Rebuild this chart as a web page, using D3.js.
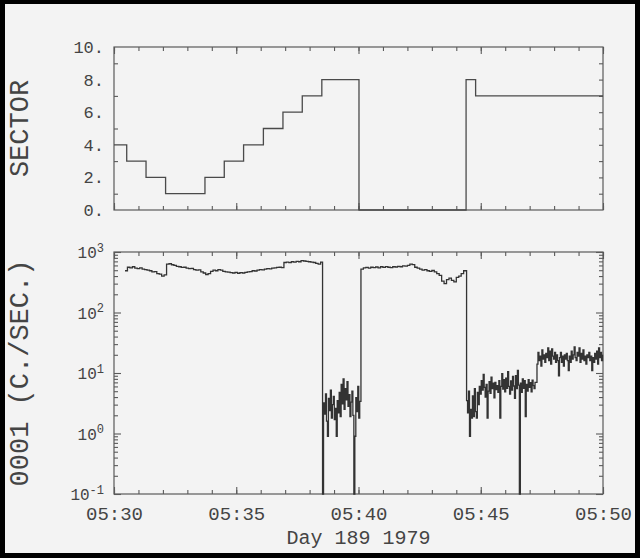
<!DOCTYPE html>
<html><head><meta charset="utf-8">
<script src="https://cdn.jsdelivr.net/npm/d3@7"></script>
<style>body{margin:0;background:#000}svg{display:block}</style>
</head><body><svg id="c" width="640" height="558"></svg>
<script>
// ---- data ----
const startTime = "1979-07-08T05:30:00Z"; // Day 189 1979
const spanMinutes = 20;
const xTickLabelFormat = "%H:%M";
const xTitle = "Day 189 1979";
const sectorTitle = "SECTOR";
const countTitle = "0001 (C./SEC.)";

// sector step function: minute offset from 05:30 -> sector value
const sectorMinutes = [0, 0.52, 1.31, 2.11, 3.72, 4.51, 5.30, 6.11, 6.91, 7.70, 8.50, 10.02, 14.40, 14.79, 20];
const sectorValues  = [4, 3, 2, 1, 2, 3, 4, 5, 6, 7, 8, 0, 8, 7, 7];
const sectorTickValues = [0, 2, 4, 6, 8, 10];

// count rate segments (regular samples, start minute + step)
const segmentStarts = [0.45, 8.53, 10.10, 14.42, 17.30];
const segmentSteps  = [0.10, 0.04, 0.10, 0.04, 0.04];
const countsSeg1 = [490,560,545,570,540,530,545,520,510,500,
  490,470,475,440,430,400,420,630,640,615,
  600,580,570,555,560,540,530,535,510,500,
  505,470,450,425,440,480,500,490,510,500,
  480,470,465,455,450,460,445,455,450,460,
  470,475,490,485,500,510,505,520,530,525,
  540,545,555,560,550,670,680,665,690,680,
  700,690,720,710,700,690,680,670,650,630,680];
const countsSeg2 = [0,3.2,2.1,4.5,1.6,0.9,3.8,2.4,5.2,1.8,3.0,
  4.1,1.7,2.6,0.9,3.5,2.2,4.8,1.9,6.5,3.1,
  8.0,2.5,5.5,3.6,7.2,2.8,4.4,1.9,3.3,5.0,
  2.0,0,0.9,3.9,2.3,6.0,1.8,3.4];
const countsSeg3 = [520,545,555,540,560,550,565,545,570,555,
  575,560,550,570,565,580,570,590,585,600,
  630,620,560,540,520,500,510,490,480,495,
  470,440,410,330,300,350,370,340,320,380,
  400,440,490];
const countsSeg4 = [3.5,2.2,5.0,0.9,2.5,1.8,4.2,1.9,5.5,2.3,
  1.8,4.8,3.0,6.0,4.5,7.5,5.2,9.5,5.8,4.0,
  6.5,1.8,5.0,7.2,4.6,8.5,5.5,6.8,3.9,7.0,
  5.3,6.2,4.8,7.5,1.8,6.0,9.8,5.4,7.8,4.9,
  8.2,5.6,10.5,6.0,4.5,7.4,5.2,8.8,6.1,3.8,
  9.0,5.5,11.0,6.3,0,6.8,4.8,8.0,5.6,7.5,
  1.9,6.5,5.0,7.8,5.8,6.9,4.9,7.6,6.2,5.5,7.0];
const countsSeg5 = [14,22,16,19,13,24,17,20,15,21,
  18,26,16,23,14,25,19,17,22,15,
  20,16,9,18,22,15,19,13,20,17,
  21,16,11,19,15,23,17,20,27,18,
  16,22,19,26,15,21,17,24,16,19,
  14,20,18,22,16,19,11,18,15,21,
  17,23,14,26,18,22,16,20];
const countTickValues = [0.1, 1, 10, 100, 1000];
const countTickExponents = ["-1", "0", "1", "2", "3"];

// ---- layout ----
const L = 114, R = 603;
const top1 = 47, bot1 = 210, top2 = 252, bot2 = 494;
const axisColor = "#5a5a5a", textColor = "#444", lineColor = "#333";
const font = "'Liberation Mono', 'DejaVu Sans Mono', monospace";

const svg = d3.select("#c");
svg.append("rect").attr("width", 640).attr("height", 558).attr("fill", "#000");
svg.append("rect").attr("x", 5).attr("y", 4).attr("width", 630).attr("height", 549).attr("fill", "#f3f3f3");

const t0 = new Date(startTime);
const toDate = m => new Date(t0.getTime() + m * 60000);
const x = d3.scaleUtc().domain([t0, toDate(spanMinutes)]).range([L, R]);
const yS = d3.scaleLinear().domain([0, 10]).range([bot1, top1]);
const yC = d3.scaleLog().domain([0.1, 1000]).range([bot2, top2]);

function styleAxis(g) {
  g.select(".domain").remove();
  g.selectAll(".tick line").attr("stroke", axisColor).attr("stroke-width", 1.1);
  g.selectAll(".tick text").attr("fill", textColor).attr("font-family", font);
}

function xTicks(yPos, withLabels) {
  const minor = svg.append("g").attr("transform", `translate(0,${yPos.b})`)
    .call(d3.axisBottom(x).ticks(d3.utcMinute.every(1)).tickSize(-4).tickFormat(""));
  styleAxis(minor);
  const minorT = svg.append("g").attr("transform", `translate(0,${yPos.t})`)
    .call(d3.axisTop(x).ticks(d3.utcMinute.every(1)).tickSize(-4).tickFormat(""));
  styleAxis(minorT);
  const major = svg.append("g").attr("transform", `translate(0,${yPos.b})`)
    .call(d3.axisBottom(x).ticks(d3.utcMinute.every(5)).tickSize(-7).tickPadding(13)
      .tickFormat(withLabels ? d3.utcFormat(xTickLabelFormat) : ""));
  styleAxis(major);
  major.selectAll(".tick text").attr("font-size", 19);
  const majorT = svg.append("g").attr("transform", `translate(0,${yPos.t})`)
    .call(d3.axisTop(x).ticks(d3.utcMinute.every(5)).tickSize(-7).tickFormat(""));
  styleAxis(majorT);
}
xTicks({t: top1, b: bot1}, false);
xTicks({t: top2, b: bot2}, true);

// sector panel y ticks
const unitTicks = d3.range(0, 11);
styleAxis(svg.append("g").attr("transform", `translate(${L},0)`)
  .call(d3.axisLeft(yS).tickValues(unitTicks.filter(v => v % 2 === 1)).tickSize(-4).tickFormat("")));
styleAxis(svg.append("g").attr("transform", `translate(${R},0)`)
  .call(d3.axisRight(yS).tickValues(unitTicks.slice(1, 10)).tickSize(-4).tickFormat("")));
const sLab = svg.append("g").attr("transform", `translate(${L},0)`)
  .call(d3.axisLeft(yS).tickValues(sectorTickValues).tickSize(0).tickPadding(10).tickFormat(d => d + "."));
styleAxis(sLab);
sLab.selectAll(".tick text").attr("font-size", 17);

// count panel y ticks
const minorLog = yC.ticks().filter(v => !countTickValues.some(c => Math.abs(c - v) < 1e-9));
styleAxis(svg.append("g").attr("transform", `translate(${L},0)`)
  .call(d3.axisLeft(yC).tickValues(minorLog).tickSize(-4).tickFormat("")));
styleAxis(svg.append("g").attr("transform", `translate(${R},0)`)
  .call(d3.axisRight(yC).tickValues(minorLog).tickSize(-4).tickFormat("")));
styleAxis(svg.append("g").attr("transform", `translate(${R},0)`)
  .call(d3.axisRight(yC).tickValues(countTickValues).tickSize(-7).tickFormat("")));
const cLab = svg.append("g").attr("transform", `translate(${L},0)`)
  .call(d3.axisLeft(yC).tickValues(countTickValues).tickSize(-7).tickPadding(10).tickFormat(() => ""));
styleAxis(cLab);
cLab.selectAll(".tick text").each(function(d, i) {
  const t = d3.select(this).attr("font-size", 16).attr("dy", "0.36em");
  t.append("tspan").text("10");
  t.append("tspan").attr("font-size", 12).attr("dy", "-0.55em").text(countTickExponents[i]);
});

// frames
[[top1, bot1], [top2, bot2]].forEach(([a, b]) => {
  svg.append("rect").attr("x", L).attr("y", a).attr("width", R - L).attr("height", b - a)
    .attr("fill", "none").attr("stroke", axisColor).attr("stroke-width", 1.2);
});

// sector line
const sectorData = sectorMinutes.map((m, i) => ({t: toDate(m), v: sectorValues[i]}));
svg.append("path").datum(sectorData)
  .attr("d", d3.line().curve(d3.curveStepAfter).x(d => x(d.t)).y(d => yS(d.v)))
  .attr("fill", "none").attr("stroke", "#4a4a4a").attr("stroke-width", 1.3);

// count line
const segs = [countsSeg1, countsSeg2, countsSeg3, countsSeg4, countsSeg5];
const countData = [];
segs.forEach((arr, s) => arr.forEach((v, i) =>
  countData.push({t: toDate(segmentStarts[s] + i * segmentSteps[s]), v})));
svg.append("path").datum(countData)
  .attr("d", d3.line().curve(d3.curveStepAfter).x(d => x(d.t)).y(d => yC(Math.max(d.v, 0.1))))
  .attr("fill", "none").attr("stroke", lineColor).attr("stroke-width", 1.3);

// titles
svg.append("text").attr("x", (L + R) / 2).attr("y", 544).attr("text-anchor", "middle")
  .attr("font-family", font).attr("font-size", 20).attr("fill", textColor).text(xTitle);
svg.append("text").attr("transform", `translate(21,${(top1 + bot1) / 2}) rotate(-90)`)
  .attr("text-anchor", "middle").attr("dominant-baseline", "central")
  .attr("font-family", font).attr("font-size", 27).attr("fill", textColor).text(sectorTitle);
svg.append("text").attr("transform", `translate(21,${(top2 + bot2) / 2}) rotate(-90)`)
  .attr("text-anchor", "middle").attr("dominant-baseline", "central")
  .attr("font-family", font).attr("font-size", 27).attr("fill", textColor).text(countTitle);
</script></body></html>
